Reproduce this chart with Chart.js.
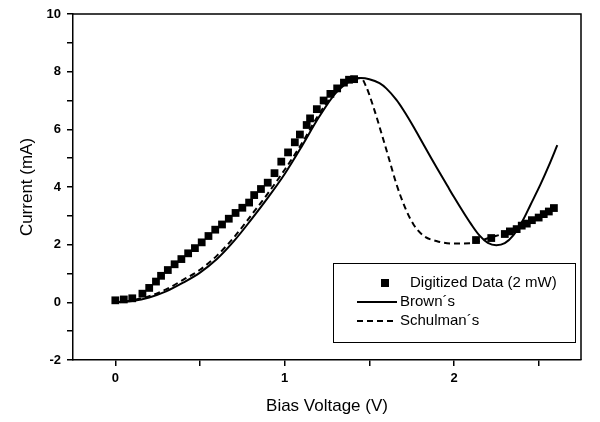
<!DOCTYPE html>
<html lang="en">
<head>
    <meta charset="UTF-8">
    <title>Bias Voltage vs Current</title>
    <script src="https://cdn.jsdelivr.net/npm/chart.js"></script>
    <style>
        * {
            margin: 0;
            padding: 0;
            box-sizing: border-box;
        }

        body {
            background: #fff;
            width: 600px;
            height: 422px;
            overflow: hidden;
        }

        .chart-box {
            position: relative;
            width: 600px;
            height: 422px;
        }
    </style>
</head>
<body>
    <div class="chart-box">
        <canvas id="ivChart"></canvas>
    </div>

    <script>
        const dataVolt = [0.0, 0.05, 0.1, 0.16, 0.2, 0.24, 0.27, 0.31, 0.35, 0.39, 0.43, 0.47, 0.51, 0.55, 0.59,
            0.63, 0.67, 0.71, 0.75, 0.79, 0.82, 0.86, 0.9, 0.94, 0.98, 1.02, 1.06, 1.09, 1.13, 1.15, 1.19,
            1.23, 1.27, 1.31, 1.35, 1.38, 1.41,
            2.13, 2.22, 2.3, 2.33, 2.37, 2.4, 2.43, 2.46, 2.5, 2.53, 2.56, 2.59];
        const dataCurr = [0.07, 0.1, 0.14, 0.3, 0.5, 0.72, 0.92, 1.12, 1.32, 1.5, 1.7, 1.88, 2.08, 2.3, 2.52,
            2.7, 2.9, 3.1, 3.28, 3.46, 3.72, 3.93, 4.15, 4.48, 4.88, 5.2, 5.55, 5.82, 6.15, 6.38, 6.7,
            7.0, 7.23, 7.42, 7.62, 7.72, 7.74,
            2.16, 2.23, 2.37, 2.46, 2.54, 2.66, 2.73, 2.85, 2.94, 3.06, 3.15, 3.27];

        // Brown's model
        const brownVolt = [0, 0.1, 0.2, 0.3, 0.4, 0.5, 0.6, 0.7, 0.8, 0.9, 1.0, 1.1, 1.2, 1.3, 1.4, 1.45,
            1.5, 1.56, 1.6, 1.66, 1.7, 1.76, 1.8, 1.86, 1.9, 1.96, 2.0, 2.06, 2.1, 2.15, 2.2, 2.25,
            2.3, 2.35, 2.41, 2.45, 2.51, 2.56, 2.61];
        const brownCurr = [0, 0.05, 0.17, 0.38, 0.68, 1.03, 1.5, 2.12, 2.85, 3.62, 4.45, 5.4, 6.4, 7.25, 7.72, 7.78,
            7.74, 7.6, 7.42, 7.02, 6.68, 6.1, 5.68, 5.06, 4.65, 4.05, 3.65, 3.08, 2.72, 2.32, 2.06, 1.98,
            2.05, 2.32, 2.88, 3.36, 4.08, 4.74, 5.45];

        // Schulman's model
        const schulmanVolt = [0, 0.1, 0.2, 0.3, 0.4, 0.5, 0.6, 0.7, 0.8, 0.9, 1.0, 1.1, 1.2, 1.3, 1.4, 1.45,
            1.48, 1.52, 1.58, 1.62, 1.66, 1.71, 1.76, 1.82, 1.9, 2.0, 2.1, 2.15, 2.2, 2.3, 2.4, 2.5, 2.55];
        const schulmanCurr = [0, 0.07, 0.21, 0.45, 0.78, 1.13, 1.62, 2.25, 3.0, 3.77, 4.6, 5.5, 6.5, 7.3, 7.75, 7.78,
            7.5, 6.85, 5.7, 4.9, 4.1, 3.3, 2.71, 2.31, 2.12, 2.04, 2.05, 2.12, 2.22, 2.4, 2.65, 2.95, 3.1];

        // Tick positions and the ones that carry labels
        const xTickValues = [0, 0.5, 1, 1.5, 2, 2.5];
        const xTickLabels = [0, 1, 2];
        const yTickLabels = [-2, 0, 2, 4, 6, 8, 10];

        const toPoints = (xs, ys) => xs.map((x, i) => ({ x: x, y: ys[i] }));

        Chart.defaults.font.family = "'Liberation Sans', Arial, sans-serif";
        Chart.defaults.color = '#000';

        // Draws the top/right frame of the plot
        const framePlugin = {
            id: 'frame',
            afterDraw(chart) {
                const { ctx, chartArea: a } = chart;
                ctx.save();
                ctx.strokeStyle = '#000';
                ctx.lineWidth = 1.5;
                ctx.beginPath();
                ctx.moveTo(a.left, a.top);
                ctx.lineTo(a.right, a.top);
                ctx.lineTo(a.right, a.bottom);
                ctx.stroke();
                ctx.restore();
            }
        };

        // Legend box inside the plot (lower right)
        const boxLegend = {
            id: 'boxLegend',
            afterDraw(chart) {
                const { ctx, chartArea: a } = chart;
                const left = a.right - 248, top = a.bottom - 97;
                const w = 242, h = 79;
                ctx.save();
                ctx.strokeStyle = '#000';
                ctx.lineWidth = 1;
                ctx.strokeRect(left + 0.5, top + 0.5, w, h);

                ctx.font = "15px 'Liberation Sans', Arial, sans-serif";
                ctx.fillStyle = '#000';
                ctx.textBaseline = 'middle';

                chart.data.datasets.forEach((ds, i) => {
                    const y = top + 20 + i * 19;
                    if (ds.showLine) {
                        ctx.strokeStyle = ds.borderColor;
                        ctx.lineWidth = ds.borderWidth;
                        ctx.setLineDash(ds.borderDash || []);
                        ctx.beginPath();
                        ctx.moveTo(left + 24, y);
                        ctx.lineTo(left + 64, y);
                        ctx.stroke();
                        ctx.setLineDash([]);
                        ctx.fillText(ds.label, left + 67, y);
                    } else {
                        ctx.fillRect(left + 48, y - 4, 8, 8);
                        ctx.fillText(ds.label, left + 77, y);
                    }
                });
                ctx.restore();
            }
        };

        const ctx = document.getElementById('ivChart').getContext('2d');
        new Chart(ctx, {
            type: 'scatter',
            data: {
                datasets: [
                    {
                        label: 'Digitized Data (2 mW)',
                        data: toPoints(dataVolt, dataCurr),
                        pointStyle: 'rect',
                        pointRadius: 5.5,
                        backgroundColor: '#000',
                        borderColor: '#000',
                        borderWidth: 0,
                        showLine: false
                    },
                    {
                        label: 'Brown´s',
                        data: toPoints(brownVolt, brownCurr),
                        borderColor: '#000',
                        borderWidth: 2,
                        pointRadius: 0,
                        showLine: true,
                        cubicInterpolationMode: 'monotone'
                    },
                    {
                        label: 'Schulman´s',
                        data: toPoints(schulmanVolt, schulmanCurr),
                        borderColor: '#000',
                        borderWidth: 2,
                        borderDash: [6, 4],
                        pointRadius: 0,
                        showLine: true,
                        cubicInterpolationMode: 'monotone'
                    }
                ]
            },
            options: {
                responsive: true,
                maintainAspectRatio: false,
                animation: false,
                layout: {
                    padding: { top: 14, right: 19, left: 0, bottom: 0 }
                },
                plugins: {
                    legend: { display: false },
                    tooltip: { enabled: false }
                },
                scales: {
                    x: {
                        type: 'linear',
                        min: -0.25,
                        max: 2.75,
                        afterFit(scale) { scale.height = 62; },
                        afterBuildTicks(scale) {
                            scale.ticks = xTickValues.map(v => ({ value: v }));
                        },
                        ticks: {
                            autoSkip: false,
                            maxRotation: 0,
                            padding: 5,
                            font: { size: 13, weight: 'bold' },
                            callback: v => xTickLabels.includes(v) ? String(v) : ''
                        },
                        grid: {
                            drawOnChartArea: false,
                            tickLength: 6,
                            color: '#000',
                            lineWidth: 1.5
                        },
                        border: { color: '#000', width: 1.5 },
                        title: {
                            display: true,
                            text: 'Bias Voltage (V)',
                            font: { size: 17 },
                            padding: { top: 0, bottom: 5 }
                        }
                    },
                    y: {
                        min: -2,
                        max: 10,
                        afterFit(scale) { scale.width = 73; },
                        ticks: {
                            stepSize: 1,
                            autoSkip: false,
                            padding: 6,
                            font: { size: 13, weight: 'bold' },
                            callback: v => yTickLabels.includes(v) ? String(v) : ''
                        },
                        grid: {
                            drawOnChartArea: false,
                            tickLength: 6,
                            color: '#000',
                            lineWidth: 1.5
                        },
                        border: { color: '#000', width: 1.5 },
                        title: {
                            display: true,
                            text: 'Current (mA)',
                            font: { size: 17 },
                            padding: { top: 17, bottom: 0 }
                        }
                    }
                }
            },
            plugins: [framePlugin, boxLegend]
        });
    </script>
</body>
</html>
